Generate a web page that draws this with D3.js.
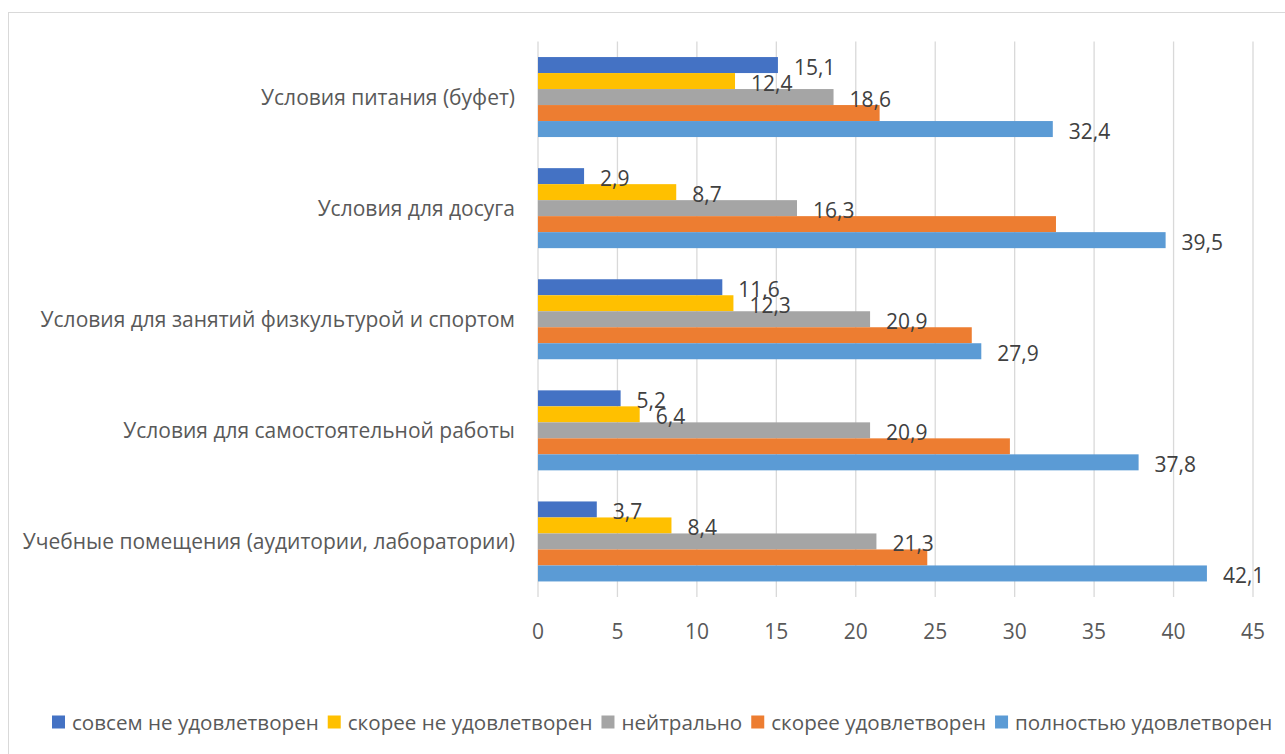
<!DOCTYPE html>
<html>
<head>
<meta charset="utf-8">
<script src="https://cdn.jsdelivr.net/npm/d3@7"></script>
<style>
  body { margin: 0; background: #fff; }
  svg text { font-family: "Open Sans", sans-serif; }
</style>
</head>
<body>
<svg id="chart" width="1285" height="754"></svg>
<script>
// categories, top to bottom as drawn
const categories = [
  "Условия питания (буфет)",
  "Условия для досуга",
  "Условия для занятий физкультурой и спортом",
  "Условия для самостоятельной работы",
  "Учебные помещения (аудитории, лаборатории)"
];
const seriesNames = [
  "совсем не удовлетворен",
  "скорее не удовлетворен",
  "нейтрально",
  "скорее удовлетворен",
  "полностью удовлетворен"
];
const seriesColors = ["#4472C4", "#FFC000", "#A5A5A5", "#ED7D31", "#5B9BD5"];

// values per series, same order as categories
const notSatisfied   = [15.1, 2.9, 11.6, 5.2, 3.7];
const ratherNot      = [12.4, 8.7, 12.3, 6.4, 8.4];
const neutral        = [18.6, 16.3, 20.9, 20.9, 21.3];
const ratherSatisf   = [21.5, 32.6, 27.3, 29.7, 24.5];
const fullySatisf    = [32.4, 39.5, 27.9, 37.8, 42.1];
const seriesValues = [notSatisfied, ratherNot, neutral, ratherSatisf, fullySatisf];
const showLabel = [true, true, true, false, true]; // orange series has no data labels

const xTicks = [0, 5, 10, 15, 20, 25, 30, 35, 40, 45];

const plot = { left: 538, right: 1253, top: 41.5, bottom: 597 };

const svg = d3.select("#chart");

// outer chart frame
svg.append("rect")
  .attr("x", 8.5).attr("y", 12.5)
  .attr("width", 1300).attr("height", 760)
  .attr("fill", "none")
  .attr("stroke", "#D9D9D9")
  .attr("stroke-width", 1);

const x = d3.scaleLinear().domain([0, 45]).range([plot.left, plot.right]);
const y0 = d3.scaleBand().domain(categories).range([plot.top, plot.bottom]).paddingInner(0.28).paddingOuter(0.14);
const y1 = d3.scaleBand().domain(seriesNames).range([0, y0.bandwidth()]);

// gridlines
svg.append("g")
  .selectAll("line")
  .data(xTicks)
  .join("line")
  .attr("x1", d => x(d)).attr("x2", d => x(d))
  .attr("y1", plot.top).attr("y2", plot.bottom)
  .attr("stroke", "#D9D9D9")
  .attr("stroke-width", 1.3);

// tick labels
svg.append("g")
  .selectAll("text")
  .data(xTicks)
  .join("text")
  .attr("x", d => x(d))
  .attr("y", 631)
  .attr("text-anchor", "middle")
  .attr("dominant-baseline", "central")
  .attr("fill", "#595959")
  .style("font-size", "21px")
  .text(d => d);

// category labels
svg.append("g")
  .selectAll("text")
  .data(categories)
  .join("text")
  .attr("x", 515)
  .attr("y", d => y0(d) + y0.bandwidth() / 2)
  .attr("text-anchor", "end")
  .attr("dominant-baseline", "central")
  .attr("fill", "#595959")
  .style("font-size", "21px")
  .text(d => d);

// bars
const groups = svg.append("g")
  .selectAll("g")
  .data(categories)
  .join("g")
  .attr("transform", d => `translate(0,${y0(d)})`);

groups.selectAll("rect")
  .data((c, ci) => seriesNames.map((s, si) => ({ s, si, v: seriesValues[si][ci] })))
  .join("rect")
  .attr("x", x(0))
  .attr("y", d => y1(d.s))
  .attr("width", d => x(d.v) - x(0))
  .attr("height", y1.bandwidth())
  .attr("fill", d => seriesColors[d.si]);

groups.selectAll("text")
  .data((c, ci) => seriesNames.map((s, si) => ({ s, si, v: seriesValues[si][ci] })).filter(d => showLabel[d.si]))
  .join("text")
  .attr("x", d => x(d.v) + 16)
  .attr("y", d => y1(d.s) + y1.bandwidth() / 2 + 2)
  .attr("dominant-baseline", "central")
  .attr("fill", "#404040")
  .style("font-size", "21px")
  .text(d => d3.format(".1f")(d.v).replace(".", ","));

// legend
const legend = svg.append("g").attr("transform", "translate(52,722)");
let lx = 0;
seriesNames.forEach((name, i) => {
  const item = legend.append("g").attr("transform", `translate(${lx},0)`);
  item.append("rect")
    .attr("x", 0).attr("y", -6.5)
    .attr("width", 13).attr("height", 13)
    .attr("fill", seriesColors[i]);
  const t = item.append("text")
    .attr("x", 20).attr("y", 0)
    .attr("dominant-baseline", "central")
    .attr("fill", "#595959")
    .style("font-size", "20.6px")
    .text(name);
  lx += 20 + t.node().getComputedTextLength() + 9;
});
</script>
</body>
</html>
